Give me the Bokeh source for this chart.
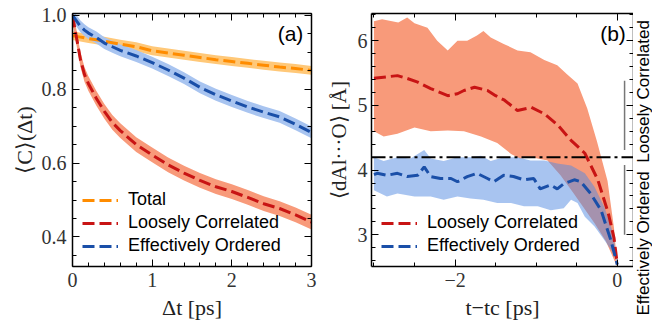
import math
from bokeh.plotting import figure
from bokeh.models import (LinearAxis, FixedTicker, Range1d, Span, Label, Legend,
                          LegendItem, PrintfTickFormatter, CustomLabelingPolicy, Title)
from bokeh.layouts import row
from bokeh.embed import file_html
from bokeh.resources import INLINE

# ---------------- panel (a) data ----------------
dt = [0, 0.05, 0.1, 0.15, 0.2, 0.3, 0.4, 0.5, 0.6, 0.8, 1.0, 1.2, 1.4, 1.6, 1.8,
      2.0, 2.2, 2.4, 2.6, 2.8, 3.0]
c_total = [0.945, 0.943, 0.941, 0.939, 0.937, 0.934, 0.930, 0.926, 0.922, 0.915,
           0.904, 0.898, 0.892, 0.886, 0.880, 0.875, 0.870, 0.865, 0.860, 0.856, 0.851]
c_total_err = [0.012] * len(dt)
c_loose = [1.0, 0.94, 0.88, 0.84, 0.815, 0.775, 0.74, 0.71, 0.688, 0.65, 0.622,
           0.595, 0.573, 0.553, 0.536, 0.523, 0.507, 0.490, 0.477, 0.460, 0.440]
c_loose_err = [0.02] * len(dt)
c_order = [1.0, 0.985, 0.97, 0.96, 0.952, 0.94, 0.925, 0.915, 0.905, 0.89, 0.872,
           0.852, 0.83, 0.805, 0.785, 0.768, 0.752, 0.738, 0.725, 0.705, 0.683]
c_order_err = [0.016] * len(dt)

# ---------------- panel (b) data ----------------
lc_t = [-3.0, -2.85, -2.71, -2.6, -2.46, -2.3, -2.09, -1.97, -1.89, -1.76, -1.6, -1.5,
        -1.39, -1.23, -1.06, -0.9, -0.73, -0.57, -0.4, -0.24, -0.11, -0.04, 0.0]
lc_d = [5.42, 5.44, 5.46, 5.42, 5.36, 5.26, 5.15, 5.18, 5.23, 5.28, 5.23, 5.15,
        5.08, 4.92, 4.97, 4.87, 4.69, 4.46, 4.26, 3.85, 3.33, 2.95, 2.55]
lc_up_t = [-3.0, -2.9, -2.7, -2.59, -2.5, -2.34, -2.22, -2.09, -1.97, -1.85, -1.73,
           -1.65, -1.56, -1.4, -1.23, -1.07, -0.9, -0.74, -0.62, -0.49, -0.37, -0.25,
           -0.12, -0.04, 0.0]
lc_up_d = [6.3, 6.33, 6.28, 6.36, 6.27, 6.2, 6.0, 5.85, 6.0, 6.0, 6.08, 6.15, 6.05,
           5.95, 5.85, 5.82, 5.7, 5.62, 5.48, 5.34, 4.95, 4.44, 3.83, 3.1, 2.5]
lc_lo_t = [-3.0, -2.88, -2.71, -2.5, -2.3, -2.09, -1.89, -1.68, -1.48, -1.31, -1.2,
           -1.07, -0.95, -0.86, -0.7, -0.55, -0.42, -0.28, -0.14, 0.0]
lc_lo_d = [4.6, 4.52, 4.56, 4.66, 4.6, 4.61, 4.6, 4.52, 4.42, 4.25, 4.18, 4.2, 4.17,
           4.15, 3.92, 3.66, 3.43, 3.18, 2.9, 2.5]

eo_t = [-3.0, -2.96, -2.84, -2.71, -2.59, -2.46, -2.38, -2.3, -2.18, -2.05, -1.97,
        -1.85, -1.73, -1.6, -1.52, -1.4, -1.28, -1.15, -1.03, -0.95, -0.82, -0.74,
        -0.66, -0.53, -0.45, -0.33, -0.2, -0.08, 0.0]
eo_d = [3.93, 3.95, 3.92, 3.95, 3.90, 3.92, 4.05, 3.90, 3.87, 3.87, 3.82, 3.90, 3.95,
        3.87, 3.82, 3.92, 3.90, 3.85, 3.87, 3.71, 3.77, 3.71, 3.79, 3.85, 3.82, 3.64,
        3.38, 2.92, 2.54]
eo_up_t = [-3.0, -2.88, -2.71, -2.55, -2.38, -2.3, -2.14, -1.97, -1.81, -1.68, -1.56,
           -1.4, -1.23, -1.07, -0.9, -0.74, -0.57, -0.4, -0.28, -0.16, -0.05, 0.0]
eo_up_d = [4.2, 4.14, 4.2, 4.18, 4.31, 4.18, 4.14, 4.2, 4.2, 4.22, 4.14, 4.2, 4.2,
           4.15, 4.15, 4.1, 4.07, 3.95, 3.74, 3.43, 3.02, 2.55]
eo_lo_t = [-3.0, -2.84, -2.71, -2.5, -2.3, -2.14, -1.97, -1.81, -1.65, -1.48, -1.31,
           -1.15, -0.98, -0.82, -0.66, -0.57, -0.49, -0.4, -0.28, -0.16, -0.05, 0.0]
eo_lo_d = [3.69, 3.59, 3.64, 3.59, 3.59, 3.54, 3.59, 3.56, 3.54, 3.49, 3.49, 3.44,
           3.44, 3.38, 3.41, 3.54, 3.49, 3.28, 3.13, 2.92, 2.72, 2.54]

threshold = 4.2
bracket_t = [0.09, 0.09]
bracket_top = [5.38, 4.08]
bracket_bot = [4.31, 3.0]

# side texts of panel (b), read from bottom to top
side_labels = ["Effectively Ordered", "Loosely Correlated"]

# tick values
a_xticks = [0, 1, 2, 3]
a_xminor = [round(0.2 * i, 2) for i in range(16)]
a_yticks = [0.4, 0.6, 0.8, 1.0]
a_yminor = [round(0.35 + 0.05 * i, 2) for i in range(13)]
b_xticks = [-2, 0]
b_xminor = [-3, -2.5, -2, -1.5, -1, -0.5, 0]
b_yticks = [3, 4, 5, 6]
b_yminor = [round(2.6 + 0.2 * i, 2) for i in range(20)]

# colors
ORANGE, ORANGE_BAND = "#FF8C00", "#FFC878"
RED, RED_BAND = "#C81414", "#F89A7A"
BLUE, BLUE_BAND = "#1A4FA8", "#A8C4F0"

SERIF = "Liberation Serif"
SANS = "Liberation Sans"

NO_LABELS = "for (const i of indices) { indices.unset(i) }\nreturn indices"


def style_axis(ax, ticks, minor, labels=True):
    ax.ticker = FixedTicker(ticks=ticks, minor_ticks=minor)
    ax.major_tick_in = 7
    ax.major_tick_out = 0
    ax.minor_tick_in = 4
    ax.minor_tick_out = 0
    ax.axis_line_width = 1.5
    ax.axis_line_color = "black"
    ax.major_tick_line_color = "black"
    ax.minor_tick_line_color = "black"
    ax.major_tick_line_width = 1
    ax.minor_tick_line_width = 1
    ax.major_label_text_font = SERIF
    ax.major_label_text_color = "#333333"
    ax.axis_label_text_font = SERIF
    ax.axis_label_text_font_size = "22px"
    ax.axis_label_text_font_style = "normal"
    ax.axis_label_text_color = "#222222"
    ax.axis_label_standoff = 0
    if labels:
        ax.major_label_text_font_size = "20px"
        ax.major_label_standoff = 6
    else:
        ax.major_label_policy = CustomLabelingPolicy(code=NO_LABELS)
        ax.major_label_text_font_size = "0px"
        ax.major_label_standoff = 0


def make_fig(width, left, right, xr, yr):
    p = figure(width=width, height=322, x_range=xr, y_range=yr,
               output_backend="svg", toolbar_location=None,
               min_border_left=left, min_border_right=right,
               min_border_top=13, min_border_bottom=55)
    p.grid.visible = False
    p.outline_line_color = None
    p.background_fill_color = "white"
    p.border_fill_color = "white"
    return p


def text_strip(width, top, bottom, text, font, size, align, offset, color):
    """A narrow, empty figure whose only content is a vertical title (bottom-to-top)."""
    f = figure(width=width, height=322, x_axis_type=None, y_axis_type=None,
               output_backend="svg", toolbar_location=None,
               min_border_left=0, min_border_right=0,
               min_border_top=top, min_border_bottom=bottom)
    f.outline_line_color = None
    f.background_fill_color = "white"
    f.border_fill_color = "white"
    f.add_layout(Title(text=text, align=align, offset=offset, standoff=0,
                       text_font=font, text_font_size=size, text_font_style="normal",
                       text_color=color), "left")
    return f


def panel_tag(p, x, y, s):
    p.add_layout(Label(x=x, y=y, x_units="screen", y_units="screen", text=s,
                       text_font=SANS, text_font_size="21px", text_align="center",
                       text_baseline="middle", text_color="black"))


def add_legend(p, items):
    lg = Legend(items=[LegendItem(label=n, renderers=[r]) for n, r in items],
                location=(10, 10))
    lg.padding = 0
    lg.margin = 0
    lg.spacing = 2
    lg.glyph_height = 18
    lg.glyph_width = 36
    lg.label_height = 18
    lg.label_standoff = 10
    lg.border_line_color = None
    lg.background_fill_alpha = 0
    lg.label_text_font = SANS
    lg.label_text_font_size = "18px"
    lg.label_text_color = "black"
    p.add_layout(lg)


# ================= panel (a) =================
pa = make_fig(324, 72, 13, Range1d(0, 3), Range1d(0.32, 1.005))
pa.add_layout(LinearAxis(), "right")
pa.add_layout(LinearAxis(), "above")
for ax in pa.below:
    style_axis(ax, a_xticks, a_xminor)
    ax.axis_label = "Δt [ps]"
    ax.axis_label_standoff = 5
for ax in pa.above:
    style_axis(ax, a_xticks, a_xminor, labels=False)
for ax in pa.left:
    style_axis(ax, a_yticks, a_yminor)
    ax.formatter = PrintfTickFormatter(format="%.1f")
    ax.axis_label = "⟨C⟩(Δt)"
    ax.axis_label_standoff = 2
for ax in pa.right:
    style_axis(ax, a_yticks, a_yminor, labels=False)

lo = [v - e for v, e in zip(c_total, c_total_err)]
hi = [v + e for v, e in zip(c_total, c_total_err)]
pa.varea(x=dt, y1=lo, y2=hi, fill_color=ORANGE_BAND)
lo = [v - e for v, e in zip(c_order, c_order_err)]
hi = [v + e for v, e in zip(c_order, c_order_err)]
pa.varea(x=dt, y1=lo, y2=hi, fill_color=BLUE_BAND)
lo = [v - e for v, e in zip(c_loose, c_loose_err)]
hi = [v + e for v, e in zip(c_loose, c_loose_err)]
pa.varea(x=dt, y1=lo, y2=hi, fill_color=RED_BAND)

la_t = pa.line(dt, c_total, line_color=ORANGE, line_width=3, line_dash="12 5")
la_l = pa.line(dt, c_loose, line_color=RED, line_width=3, line_dash="12 5")
la_o = pa.line(dt, c_order, line_color=BLUE, line_width=3, line_dash="12 5")

add_legend(pa, [("Total", la_t), ("Loosely Correlated", la_l),
                ("Effectively Ordered", la_o)])
panel_tag(pa, 218, 233, "(a)")

# y title of panel (b), in its own narrow strip
pmid = text_strip(30, 13, 55, "⟨dAl···O⟩ [Å]", SERIF, "21px", "center", 0, "#222222")

# ================= panel (b) =================
pb = make_fig(279, 17, 0, Range1d(-3.03, 0.2), Range1d(2.51, 6.42))
pb.add_layout(LinearAxis(), "right")
pb.add_layout(LinearAxis(), "above")
for ax in pb.below:
    style_axis(ax, b_xticks, b_xminor)
    ax.major_label_overrides = {-2: "−2", 0: "0"}
    ax.axis_label = "t−tc [ps]"
    ax.axis_label_standoff = 5
for ax in pb.above:
    style_axis(ax, b_xticks, b_xminor, labels=False)
for ax in pb.left:
    style_axis(ax, b_yticks, b_yminor)
    ax.major_label_standoff = 4
for ax in pb.right:
    style_axis(ax, b_yticks, b_yminor, labels=False)

pb.patch(lc_up_t + lc_lo_t[::-1], lc_up_d + lc_lo_d[::-1], fill_color=RED_BAND,
         line_color=None)
pb.patch(eo_up_t + eo_lo_t[::-1], eo_up_d + eo_lo_d[::-1], fill_color="#5189E1",
         fill_alpha=0.5, line_color=None)
pb.segment(x0=bracket_t, y0=bracket_top, x1=bracket_t, y1=bracket_bot,
           line_color="#777777", line_width=1.5)
pb.add_layout(Span(location=threshold, dimension="width", line_color="black",
                   line_width=2, line_dash="14 4 3 4"))
lb_l = pb.line(lc_t, lc_d, line_color=RED, line_width=3, line_dash="12 5")
lb_o = pb.line(eo_t, eo_d, line_color=BLUE, line_width=3, line_dash="12 5")

add_legend(pb, [("Loosely Correlated", lb_l), ("Effectively Ordered", lb_o)])
panel_tag(pb, 241.5, 233, "(b)")

# side texts of panel (b), in a narrow strip on the right
pc = text_strip(19, 0, 0, side_labels[0] + "\u2002" + side_labels[1], SANS, "17px",
                "left", -49, "black")

layout = row(pa, pmid, pb, pc)
open("out.html", "w").write(file_html(layout, INLINE))
